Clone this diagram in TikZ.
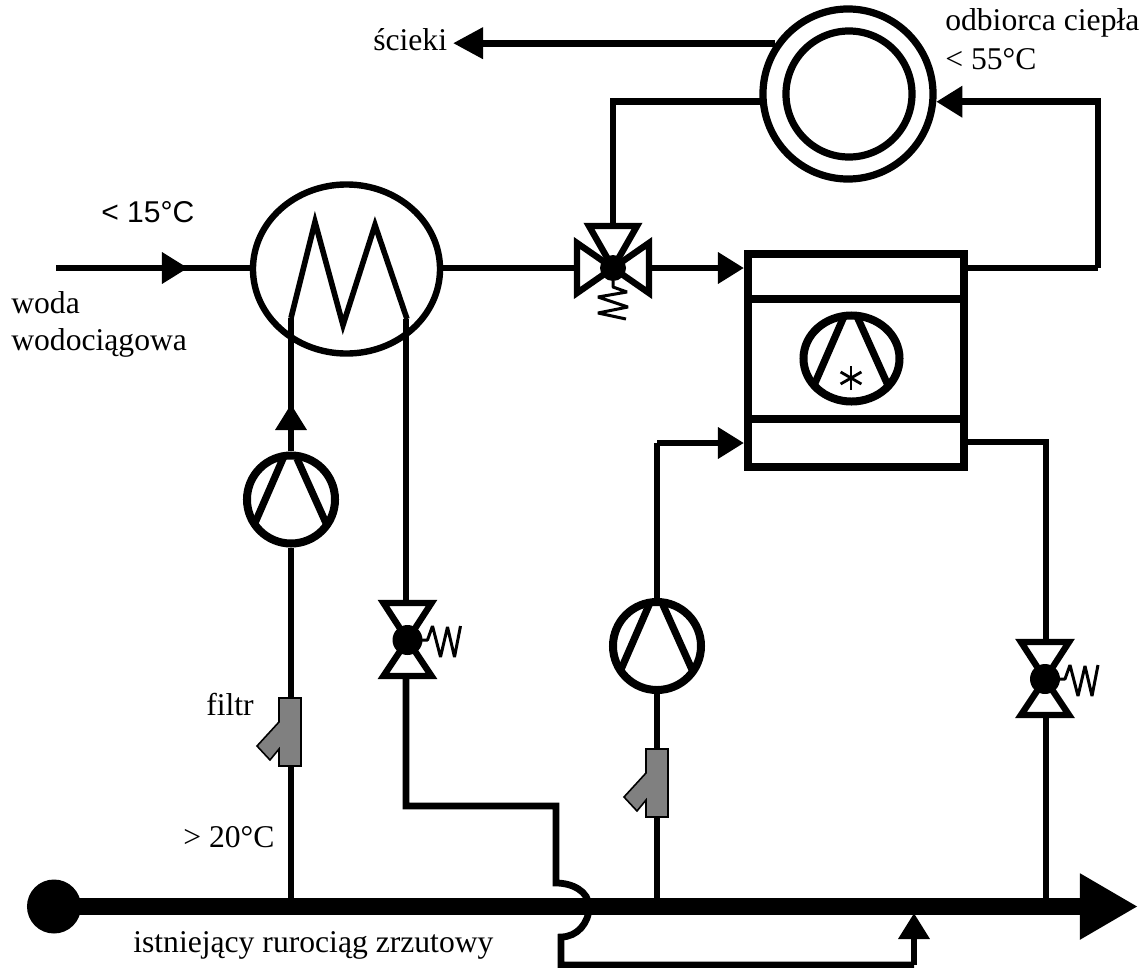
\documentclass[tikz,border=0pt]{standalone}
\usepackage{fontspec}
\setmainfont{Liberation Serif}
\newfontfamily\arialfont{Liberation Sans}
\usetikzlibrary{arrows.meta,shapes.geometric}

\tikzset{
  valve/.pic={
    \draw[valveline] (0,0) -- (-24,-37) -- (24,-37) -- cycle;
    \draw[valveline] (0,0) -- (-24,36) -- (24,36) -- cycle;
    \fill (0,0) circle [radius=15];
    \draw[spring] (13,0) -- (20,0) -- (25,-14) -- (33,17) -- (40,-13) -- (47,17) -- (53,-14);
    \coordinate (-top) at (0,-37);
    \coordinate (-bottom) at (0,36);
  },
  mixvalve/.pic={
    \draw[valveline] (0,0) -- (-24,-42) -- (24,-42) -- cycle;
    \draw[valveline] (0,0) -- (-36,-25) -- (-36,25) -- cycle;
    \draw[valveline] (0,0) -- (36,-25) -- (36,25) -- cycle;
    \fill (0,0) circle [radius=13];
    \draw[spring] (0,13) -- (0,19) -- (14,24) -- (-15,29) -- (15,39) -- (-15,45) -- (13,51);
    \coordinate (-top) at (0,-42);
    \coordinate (-left) at (-36,0);
    \coordinate (-right) at (39,0);
  },
  filtr/.pic={
    \draw[filterline] (-11,-34) -- (11,-34) -- (11,34) -- (-11,34) -- (-11,17)
      -- (-20,28) -- (-33,14) -- (-11,-10) -- cycle;
    \coordinate (-top) at (0,-34);
    \coordinate (-bottom) at (0,34);
  },
}

\begin{document}
\begin{tikzpicture}[x=0.025cm,y=-0.025cm,
    every node/.append style={inner sep=0pt,font=\fontsize{22.5}{28}\selectfont},
    txt/.style={anchor=base west},
    pipe/.style={line width=0.17cm},
    tipped/.style={pipe,-{Triangle[length=0.65cm,width=0.75cm]}},
    main/.style={line width=0.42cm},
    valveline/.style={line width=0.16cm,fill=white,line join=miter},
    spring/.style={line width=0.075cm,line join=bevel},
    filterline/.style={line width=0.04cm,fill=black!50},
    hx/.style={ellipse,draw,line width=0.16cm,minimum width=4.675cm,minimum height=4.225cm},
    ring/.style={circle,draw,line width=0.18cm},
    pump/.style={ellipse,draw,line width=0.2cm,minimum width=2.2cm,minimum height=2.2cm,
      path picture={
        \draw[line width=0.18cm] ([shift={(-8,-41)}]path picture bounding box.center) -- ([shift={(-38,28)}]path picture bounding box.center);
        \draw[line width=0.18cm] ([shift={(6,-41)}]path picture bounding box.center) -- ([shift={(37,28)}]path picture bounding box.center);
      }},
    unit/.style={rectangle,draw,line width=0.2cm,minimum width=5.4cm,minimum height=5.325cm},
  ]
    \useasboundingbox (0,0) rectangle (1147,968);

    \node [ring,minimum size=4.25cm] (R) at (848,94) {};
    \node [ring,minimum size=3.15cm] (Rin) at (849,94) {};
    \node [hx] (HX) at (346.5,269) {};
    \node [unit] (HP) at (856,360.5) {};
    \node [pump] (P1) at (291,499.5) {};
    \node [pump] (P2) at (657,646) {};
    \node [pump,minimum width=2.4cm,minimum height=2.15cm] (C) at (851.5,358.5) {};
    \coordinate (HPa) at (748,299);
    \coordinate (HPb) at (964,299);
    \coordinate (HPc) at (748,419);
    \coordinate (HPd) at (964,419);
    \draw[line width=0.2cm] (HPa) -- (HPb);
    \draw[line width=0.2cm] (HPc) -- (HPd);
    % evaporator mark
    \foreach \a in {90,30,-30}
      \draw[line width=0.07cm] (851,378) ++(\a:12) -- (851,378) -- ++(\a+180:12);

    \pic (V1) at (407.5,640) {valve};
    \pic (V2) at (1045,679) {valve};
    \pic (V3) at (613,268) {mixvalve};
    \pic (F1) at (290,732) {filtr};
    \pic (F2) at (657,783) {filtr};

    % heat exchanger coil
    \coordinate (Ca) at (291,318);
    \coordinate (Cb) at (407,319);
    \draw[line width=0.14cm,line join=miter] (Ca) -- (315,222) -- (343,325) -- (375,225) -- (Cb);

    % inlet
    \coordinate (in) at (56,268);
    \coordinate (inT) at (188,268);
    \draw[pipe] (in) -- (in -| HX.west);
    \draw[tipped] (in) -- (inT);
    \draw[pipe] (in -| HX.east) -- (V3-left);
    \coordinate (uA) at (744,268);
    \draw[tipped] (V3-right) -- (uA);

    % receiver
    \coordinate (scT) at (453,43);
    \draw[pipe,-{Triangle[length=0.75cm,width=0.75cm]}] (R.145) -- (R.145 -| scT);
    \coordinate (uB) at (1098,268);
    \draw[pipe] (R.185) -| (V3-top);
    \draw[pipe] (HP.east |- uB) -- (uB);
    \draw[tipped] (uB) |- (R.355);

    % left loop
    \coordinate (M1) at (291,906);
    \coordinate (P1T) at (291,404);
    \draw[pipe] (M1) -- (M1 |- F1-bottom);
    \draw[pipe] (M1 |- F1-top) -- (P1.south);
    \draw[pipe] (P1.north) -- (Ca);
    \draw[tipped] (P1.north) -- (P1T);
    \coordinate (Vt) at (406,319);
    \draw[pipe] (Vt) -- (Vt |- V1-top);

    % return under main
    \coordinate (Ja) at (406,806);
    \coordinate (Jb) at (556,806);
    \coordinate (Jc) at (556,883);
    \coordinate (Jd) at (589,907);
    \coordinate (Je) at (561,937);
    \coordinate (Jf) at (561,965);
    \coordinate (Jg) at (914,965);
    \coordinate (Jh) at (914,913);
    \draw[pipe] (Ja |- V1-bottom) -- (Ja) -- (Jb) -- (Jc) to[out=0,in=90] (Jd) to[out=-90,in=0] (Je) -- (Jf) -- (Jg);
    \draw[tipped] (Jg) -- (Jh);

    % right loop
    \coordinate (M2) at (657,906);
    \coordinate (bT) at (744,443);
    \coordinate (bA) at (657,443);
    \draw[pipe] (M2) -- (F2-bottom);
    \draw[pipe] (F2-top) -- (P2.south);
    \draw[pipe] (P2.north) -- (bA);
    \draw[tipped] (bA) -- (bT);
    \coordinate (M3) at (1046,906);
    \coordinate (dA) at (1046,442);
    \draw[pipe] (HP.east |- dA) -- (dA) -- (dA |- V2-top);
    \draw[pipe] (dA |- V2-bottom) -- (M3);

    % main pipe
    \node [circle,fill,minimum size=1.35cm] (Ms) at (54,906.5) {};
    \coordinate (Mt) at (1138,906.5);
    \draw[main,-{Triangle[length=1.45cm,width=1.55cm]}] (Ms.center) -- (Mt);

    \node [txt] (tScieki) at (373,50) {ścieki};
    \node [txt] (tOdb) at (945,30) {odbiorca ciepła};
    \node [txt] (t55) at (945,69) {< 55°C};
    \node [txt,font=\arialfont\fontsize{21.4}{24}\selectfont] (t15) at (101,222) {< 15°C};
    \node [txt] (tWoda) at (11,313) {woda};
    \node [txt] (tWodoc) at (11,350) {wodociągowa};
    \node [txt] (tFiltr) at (206,715) {filtr};
    \node [txt] (t20) at (183,847) {> 20°C};
    \node [txt] (tIst) at (133,952) {istniejący rurociąg zrzutowy};
\end{tikzpicture}
\end{document}
